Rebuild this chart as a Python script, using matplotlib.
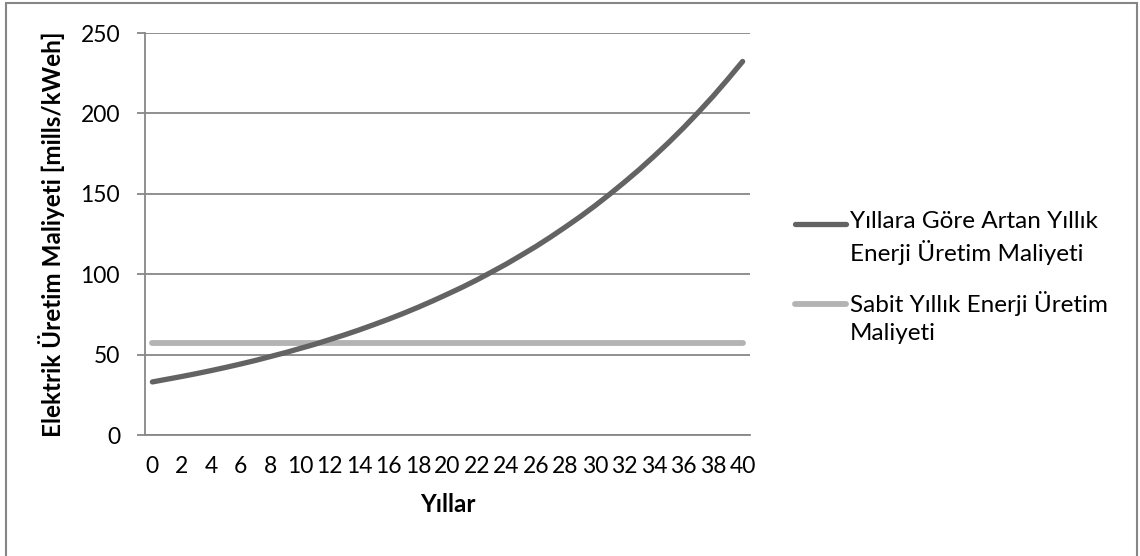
import matplotlib
matplotlib.use("Agg")
import matplotlib.pyplot as plt
from matplotlib.lines import Line2D
from matplotlib.patches import Rectangle

# yearly generation cost, mills/kWeh
years = list(range(0, 41))
rising_cost = [33.0, 34.7, 36.4, 38.2, 40.1, 42.1, 44.2, 46.4, 48.8, 51.2,
               53.8, 56.4, 59.3, 62.2, 65.3, 68.6, 72.0, 75.6, 79.4, 83.4,
               87.6, 91.9, 96.5, 101.4, 106.4, 111.8, 117.3, 123.2, 129.4, 135.8,
               142.6, 149.8, 157.3, 165.1, 173.4, 182.0, 191.1, 200.7, 210.7, 221.3,
               232.3]
flat_cost = [57.0] * len(years)
series_names = ["Yıllara Göre Artan Yıllık\nEnerji Üretim Maliyeti",
                "Sabit Yıllık Enerji Üretim\nMaliyeti"]
y_ticks = [0, 50, 100, 150, 200, 250]

W, H = 1140, 556
plt.rcParams['font.family'] = ['Lato', 'DejaVu Sans']

fig = plt.figure(figsize=(W / 100, H / 100), dpi=100)
fig.patch.set_facecolor('white')


def fx(px):
    return px / W


def fy(py):
    return 1 - py / H


ax = fig.add_axes([fx(145), fy(435), fx(750) - fx(145), fy(33) - fy(435)])

dark = '#636363'
light = '#b3b3b3'
grid = '#878787'

ax.plot(years, flat_cost, color=light, lw=4.2, solid_capstyle='round')
ax.plot(years, rising_cost, color=dark, lw=3.8, solid_capstyle='round')

ax.set_xlim(-0.5, 40.5)
ax.set_ylim(0, 250)
ax.set_yticks(y_ticks)
ax.set_xticks(years[::2])
ax.set_xticklabels([str(y) for y in years[::2]])
ax.yaxis.grid(True, color=grid, lw=1.3)
ax.set_axisbelow(True)
for s in ['top', 'right']:
    ax.spines[s].set_visible(False)
for s in ['left', 'bottom']:
    ax.spines[s].set_color(grid)
    ax.spines[s].set_linewidth(1.3)
ax.tick_params(axis='y', length=6, width=1.3, color=grid, labelsize=16.5, pad=12)
ax.tick_params(axis='x', length=0, labelsize=16.5, pad=15)

ax.set_xlabel('Yıllar', fontsize=17.5, fontweight='bold', labelpad=12)
ax.set_ylabel('Elektrik Üretim Maliyeti [mills/kWeh]', fontsize=17.5,
              fontweight='bold', labelpad=11)

# legend drawn by hand so the line sits on the first text row
legend_rows = [(224, dark, 3.8), (304, light, 4.2)]
for (row, col, lw), name in zip(legend_rows, series_names):
    fig.add_artist(Line2D([fx(795), fx(846)], [fy(row), fy(row)], color=col,
                          lw=lw, solid_capstyle='round', transform=fig.transFigure))
    fig.text(fx(850), fy(row - 13), name, fontsize=17.5, va='top', ha='left',
             linespacing=1.4)

# outer chart frame
fig.add_artist(Rectangle((fx(6), fy(575)), fx(1137) - fx(6), fy(3) - fy(575),
                         fill=False, edgecolor='#868686', lw=1.5,
                         transform=fig.transFigure))

fig.savefig('out.png', dpi=100)
